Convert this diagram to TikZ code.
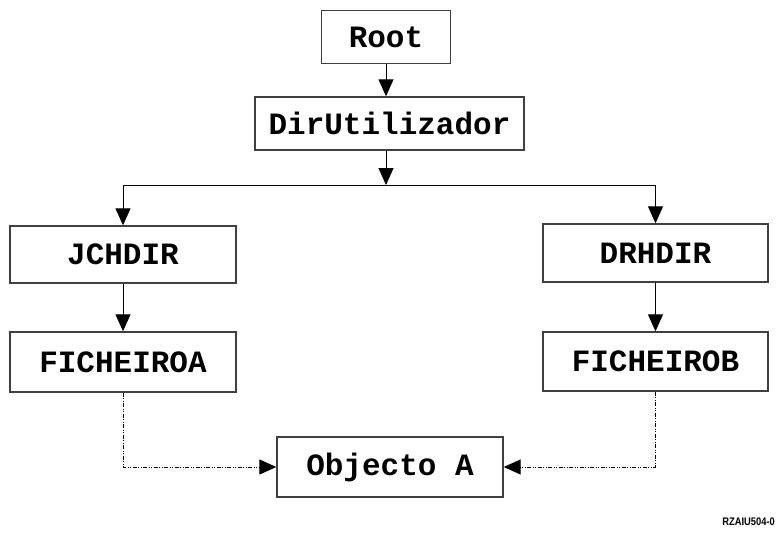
\documentclass[tikz,border=0pt]{standalone}
\usepackage{fontspec}
\setmonofont{Liberation Mono}
\setsansfont{Liberation Sans}
\usetikzlibrary{arrows.meta}

\begin{document}
\begin{tikzpicture}[x=1pt,y=-1pt,
                box/.style={draw=black!75, line width=1.4pt, fill=white, inner sep=0pt,
                        font=\ttfamily\bfseries\fontsize{31}{31}\selectfont},
                link/.style={line width=1pt, -{Triangle[length=17pt,width=15pt]}},
                ref/.style={line width=1pt, dash pattern=on 4pt off 1.5pt on 1pt off 1.5pt on 1pt off 1.5pt,
                        -{Triangle[length=17pt,width=15pt]}}]
                \useasboundingbox (0,0) rectangle (777,544);

                \node[box, minimum width=129pt, minimum height=53pt] (root) at (386,37) {Root};
                \node[box, minimum width=269pt, minimum height=53pt] (diruser) at (389.5,123.5) {DirUtilizador};
                \node[box, minimum width=226pt, minimum height=57pt] (jchdir) at (123,254.5) {JCHDIR};
                \node[box, minimum width=226pt, minimum height=60pt] (ficha) at (123,362) {FICHEIROA};
                \node[box, minimum width=225pt, minimum height=58pt] (drhdir) at (655.5,253) {DRHDIR};
                \node[box, minimum width=225pt, minimum height=59pt] (fichb) at (655.5,361.5) {FICHEIROB};
                \node[box, minimum width=226pt, minimum height=60pt] (obja) at (390,467) {Objecto A};

                \coordinate (bar) at (386,185);
                \coordinate (barl) at (jchdir.north |- bar);
                \coordinate (barr) at (drhdir.north |- bar);

                \draw[link] (root) -- (root.south |- diruser.north);
                \draw[link] (diruser.south -| bar) -- (bar);
                \draw[line width=1pt] (barl) -- (barr);
                \draw[link] (barl) -- (jchdir.north);
                \draw[link] (barr) -- (drhdir.north);
                \draw[link] (jchdir) -- (ficha);
                \draw[link] (drhdir) -- (fichb);

                \draw[ref] (ficha.south) |- (obja.west);
                \draw[ref] (fichb.south) |- (obja.east);

                \node[anchor=east, inner sep=0pt, xscale=0.85, font=\sffamily\bfseries\fontsize{11}{11}\selectfont] (tag) at (775,522) {RZAIU504-0};

                \end{tikzpicture}
\end{document}
